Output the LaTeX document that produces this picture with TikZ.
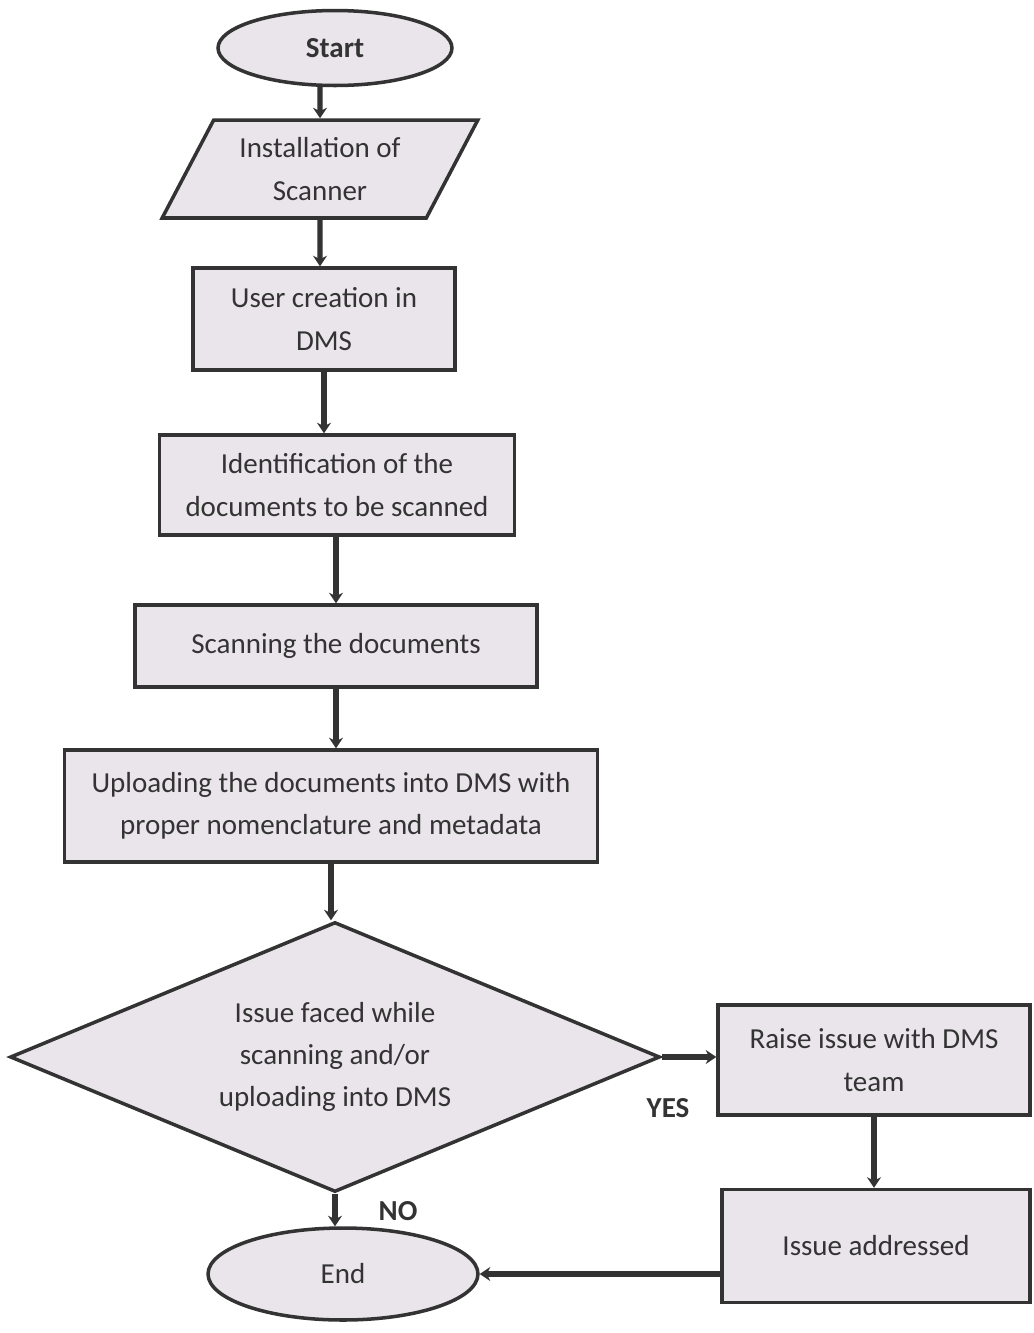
\documentclass[tikz,border=0pt]{standalone}
\usepackage{fontspec}
\setmainfont{Carlito}
\usetikzlibrary{shapes.geometric, backgrounds, arrows.meta}
\definecolor{boxfill}{HTML}{E9E5EA}
\definecolor{boxline}{HTML}{333333}
\tikzset{
  terminal/.style = {
    ellipse, draw=boxline, line width=2pt, fill=boxfill,
    align=center, text=boxline, inner sep=0pt
  },
  inout/.style = {
    trapezium, trapezium left angle=58, trapezium right angle=122,
    trapezium stretches=true, draw=boxline, line width=2pt,
    fill=boxfill, align=center, text=boxline, inner sep=0pt
  },
  process/.style = {
    rectangle, draw=boxline, line width=2pt, fill=boxfill,
    align=center, text=boxline, inner sep=0pt
  },
  decision/.style = {
    diamond, shape aspect=2.4, draw=boxline, line width=2pt,
    fill=boxfill, align=center, text=boxline, inner sep=0pt
  },
  answer/.style = { font=\fontsize{16.5}{18}\selectfont\bfseries, text=boxline },
  flow/.style = { draw=boxline, line width=3pt,
    -{Stealth[length=6pt, width=8pt]} }
}

\begin{document}
\begin{tikzpicture}[x=0.02cm, y=-0.02cm,
    font=\fontsize{16.5}{24}\selectfont]

    \useasboundingbox (0,0) rectangle (1034,1333);

    % ------------------------------------------------------------- Main column
    \node [terminal, minimum width=4.68cm, minimum height=1.5cm]
      (start) at (335, 48) {\textbf{Start}};
    \node [inout, minimum width=6.32cm, minimum height=1.96cm]
      (install) at (320, 169) {Installation of\\Scanner};
    \node [process, minimum width=5.24cm, minimum height=2.04cm]
      (user) at (324, 319) {User creation in\\DMS};
    \node [process, minimum width=7.1cm, minimum height=2.0cm]
      (ident) at (337, 485) {Identification of the\\documents to be scanned};
    \node [process, minimum width=8.04cm, minimum height=1.64cm]
      (scan) at (336, 646) {Scanning the documents};
    \node [process, minimum width=10.66cm, minimum height=2.24cm]
      (upload) at (331, 806) {Uploading the documents into DMS with\\proper nomenclature and metadata};
    \node [decision, minimum width=13cm, minimum height=5.4cm]
      (issue) at (335, 1057) {Issue faced while\\scanning and/or\\uploading into DMS};
    \node [terminal, minimum width=5.4cm, minimum height=1.84cm]
      (end) at (343, 1274) {End};

    % ------------------------------------------------------------ Side column
    \node [process, minimum width=6.24cm, minimum height=2.2cm]
      (raise) at (874, 1060) {Raise issue with DMS\\team};
    \node [process, minimum width=6.16cm, minimum height=2.26cm]
      (addressed) at (876, 1246) {Issue addressed};

    % ----------------------------------------------------------------- Labels
    \node [answer] (yes) at (668, 1108) {YES};
    \node [answer] (no)  at (398, 1211) {NO};

    % ----------------------------------------- Connectors (behind the shapes)
    \begin{scope}[on background layer]
      \fill [white] (0,0) rectangle (1034,1333);

      \draw [flow] (install |- start) -- (install.north);
      \draw [flow] (install) -- (install |- user.north);
      \draw [flow] (user)    -- (user |- ident.north);
      \draw [flow] (scan |- ident) -- (scan.north);
      \draw [flow] (scan)    -- (scan |- upload.north);
      \draw [flow] (upload)  -- (upload |- issue.north);
      \draw [flow] (issue)   -- (issue |- end.north);
      \draw [flow] (issue.east) -- (raise.west |- issue.east);
      \draw [flow] (raise)   -- (raise |- addressed.north);
      \draw [flow] (addressed.west |- end.east) -- (end.east);
    \end{scope}

\end{tikzpicture}
\end{document}
